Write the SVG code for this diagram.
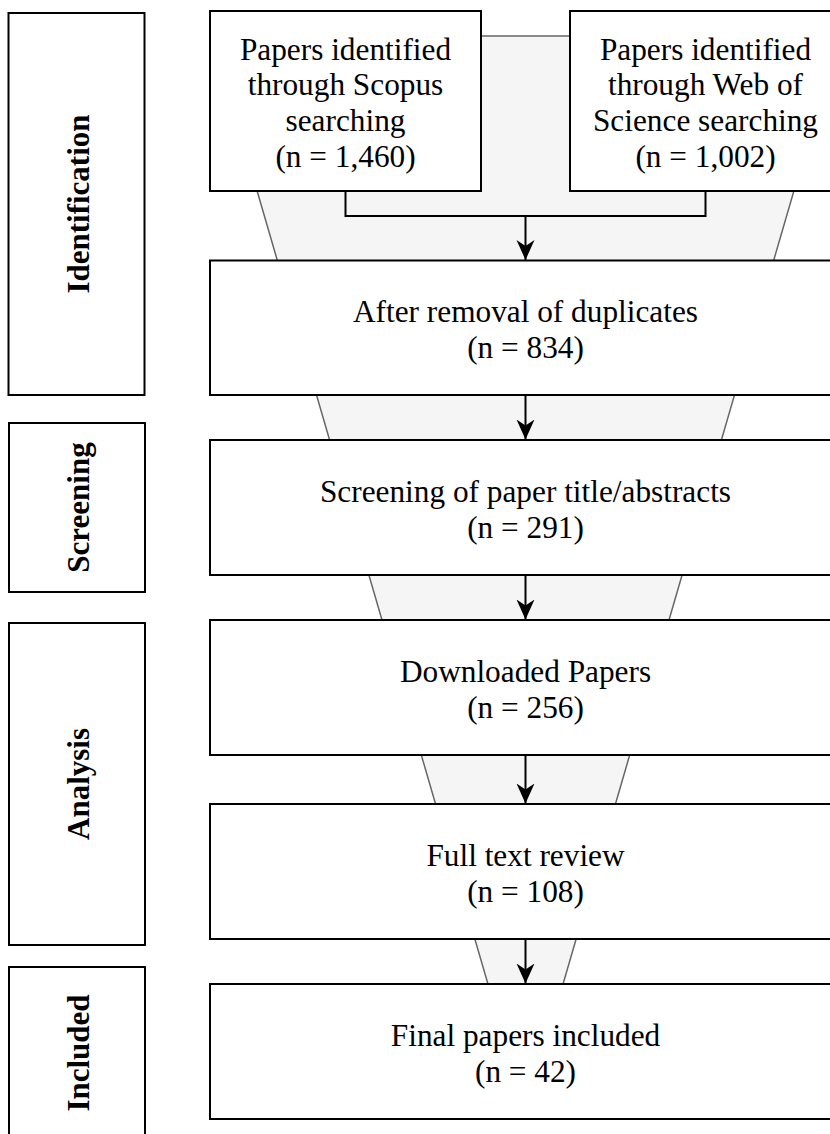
<svg xmlns="http://www.w3.org/2000/svg" width="830" height="1134" viewBox="0 0 830 1134">
  <defs>
    <style>
      .box { fill: #ffffff; stroke: #000000; stroke-width: 2; }
      .txt { font-family: "Liberation Serif", "Times New Roman", serif; font-size: 31.3px; fill: #000000; text-anchor: middle; }
      .lbl { font-family: "Liberation Serif", "Times New Roman", serif; font-size: 31px; font-weight: bold; fill: #000000; text-anchor: middle; }
      .edge { fill: none; stroke: #000000; stroke-width: 2; }
      .funnel { fill: #f5f5f5; stroke: #666666; stroke-width: 1.5; }
    </style>
    <marker id="arrow" viewBox="0 0 20 20" refX="20" refY="10" markerWidth="20" markerHeight="20" markerUnits="userSpaceOnUse" orient="auto">
      <path d="M0,1 L20,10 L0,19 L6,10 Z" fill="#000000"/>
    </marker>
  </defs>
  <rect x="0" y="0" width="830" height="1134" fill="#ffffff"/>

  <g id="funnel">
    <polygon class="funnel" points="212,36 839,36 525.5,1113"/>
  </g>

  <g id="stage-identification">
    <rect class="box" x="8.5" y="13" width="136" height="382"/>
    <text class="lbl" transform="translate(88.5,204) rotate(-90)">Identification</text>
  </g>
  <g id="stage-screening">
    <rect class="box" x="9" y="423" width="136" height="169"/>
    <text class="lbl" transform="translate(88.5,507.5) rotate(-90)">Screening</text>
  </g>
  <g id="stage-analysis">
    <rect class="box" x="9" y="623" width="136" height="322"/>
    <text class="lbl" transform="translate(88.5,784) rotate(-90)">Analysis</text>
  </g>
  <g id="stage-included">
    <rect class="box" x="9" y="967" width="136" height="172"/>
    <text class="lbl" transform="translate(88.5,1053) rotate(-90)">Included</text>
  </g>

  <g id="scopus">
    <rect class="box" x="210" y="11" width="271" height="180"/>
    <text class="txt" x="345.5" y="59.5">Papers identified</text>
    <text class="txt" x="345.5" y="95">through Scopus</text>
    <text class="txt" x="345.5" y="130.5">searching</text>
    <text class="txt" x="345.5" y="166.5">(n = 1,460)</text>
  </g>
  <g id="wos">
    <rect class="box" x="570" y="11" width="271" height="180"/>
    <text class="txt" x="705.5" y="59.5">Papers identified</text>
    <text class="txt" x="705.5" y="95">through Web of</text>
    <text class="txt" x="705.5" y="130.5">Science searching</text>
    <text class="txt" x="705.5" y="166.5">(n = 1,002)</text>
  </g>
  <g id="duplicates">
    <rect class="box" x="210" y="260.5" width="631" height="134.5"/>
    <text class="txt" x="525.5" y="322">After removal of duplicates</text>
    <text class="txt" x="525.5" y="358">(n = 834)</text>
  </g>
  <g id="screening">
    <rect class="box" x="210" y="440" width="631" height="135"/>
    <text class="txt" x="525.5" y="501.5">Screening of paper title/abstracts</text>
    <text class="txt" x="525.5" y="537.5">(n = 291)</text>
  </g>
  <g id="downloaded">
    <rect class="box" x="210" y="620" width="631" height="135"/>
    <text class="txt" x="525.5" y="681.5">Downloaded Papers</text>
    <text class="txt" x="525.5" y="717.5">(n = 256)</text>
  </g>
  <g id="fulltext">
    <rect class="box" x="210" y="804" width="631" height="135"/>
    <text class="txt" x="525.5" y="865.5">Full text review</text>
    <text class="txt" x="525.5" y="901.5">(n = 108)</text>
  </g>
  <g id="final">
    <rect class="box" x="210" y="984" width="631" height="135"/>
    <text class="txt" x="525.5" y="1045.5">Final papers included</text>
    <text class="txt" x="525.5" y="1081.5">(n = 42)</text>
  </g>

  <g id="connectors">
    <path class="edge" d="M345.5,191 V216 H705.5 V191"/>
    <path class="edge" d="M525.5,216 V260" marker-end="url(#arrow)"/>
    <path class="edge" d="M525.5,395 V439.5" marker-end="url(#arrow)"/>
    <path class="edge" d="M525.5,575 V619.5" marker-end="url(#arrow)"/>
    <path class="edge" d="M525.5,755 V803.5" marker-end="url(#arrow)"/>
    <path class="edge" d="M525.5,939 V983.5" marker-end="url(#arrow)"/>
  </g>
</svg>
